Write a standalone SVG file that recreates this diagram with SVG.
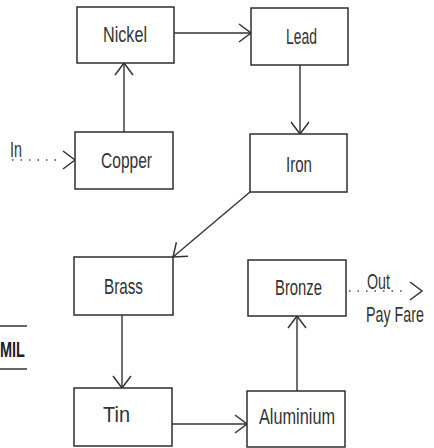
<svg xmlns="http://www.w3.org/2000/svg" width="434" height="448" viewBox="0 0 434 448">
<style>
.box{fill:#fff;stroke:#2e2e2e;stroke-width:1.5}
.lbl{font-family:"Liberation Sans",Arial,sans-serif;font-size:22px;fill:#333}
.ln{fill:none;stroke:#333;stroke-width:1.4;marker-end:url(#chev)}
.dot{fill:none;stroke:#444;stroke-width:1.5;stroke-dasharray:1.5 7}
.tip{fill:none;stroke:none;marker-end:url(#chev)}
</style>
<defs>
<marker id="chev" markerUnits="userSpaceOnUse" viewBox="-15 -11 17 22" markerWidth="17" markerHeight="22" refX="0" refY="0" orient="auto" overflow="visible">
<path d="M-12,-9 L0,0 L-12,9" fill="none" stroke="#333" stroke-width="1.5"/>
</marker>
</defs>
<rect width="434" height="448" fill="#fff"/>
<g id="connectors">
<path class="ln" d="M174,33 L251,33"/>
<path class="ln" d="M124,132 L124,63"/>
<path class="ln" d="M300,65 L300,134"/>
<path class="ln" d="M250,192 L173,257"/>
<path class="ln" d="M122,315 L122,388"/>
<path class="ln" d="M172,424 L247,424"/>
<path class="ln" d="M297,391 L297,316"/>
<path class="dot" d="M12,160 H60"/>
<path class="tip" d="M70,160 H75"/>
<path class="dot" d="M349,291 H407"/>
<path class="tip" d="M416,291 H422"/>
</g>
<g id="nickel"><rect class="box" x="77" y="7" width="97" height="56"/><text class="lbl" x="103" y="42" textLength="44" lengthAdjust="spacingAndGlyphs">Nickel</text></g>
<g id="lead"><rect class="box" x="251" y="8" width="97" height="57"/><text class="lbl" x="286" y="44" textLength="31" lengthAdjust="spacingAndGlyphs">Lead</text></g>
<g id="copper"><rect class="box" x="75" y="132" width="98" height="57"/><text class="lbl" x="101" y="168" textLength="51" lengthAdjust="spacingAndGlyphs">Copper</text></g>
<g id="iron"><rect class="box" x="250" y="134" width="97" height="58"/><text class="lbl" x="286" y="172" textLength="26" lengthAdjust="spacingAndGlyphs">Iron</text></g>
<g id="brass"><rect class="box" x="74" y="257" width="99" height="58"/><text class="lbl" x="104" y="294" textLength="39" lengthAdjust="spacingAndGlyphs">Brass</text></g>
<g id="bronze"><rect class="box" x="248" y="260" width="98" height="56"/><text class="lbl" x="275" y="295" textLength="47" lengthAdjust="spacingAndGlyphs">Bronze</text></g>
<g id="tin"><rect class="box" x="74" y="388" width="98" height="58"/><text class="lbl" x="103" y="422" textLength="27" lengthAdjust="spacingAndGlyphs">Tin</text></g>
<g id="aluminium"><rect class="box" x="247" y="391" width="98" height="56"/><text class="lbl" x="259" y="424" textLength="76" lengthAdjust="spacingAndGlyphs">Aluminium</text></g>
<g id="labels">
<text class="lbl" x="10" y="157" textLength="12" lengthAdjust="spacingAndGlyphs">In</text>
<text class="lbl" x="367" y="289" textLength="23" lengthAdjust="spacingAndGlyphs">Out</text>
<text class="lbl" transform="translate(366,322) scale(0.65,1)" x="0" y="0">Pay Fare</text>
</g>
<g id="mil">
<line x1="0" y1="326" x2="27" y2="326" stroke="#333" stroke-width="1.5"/>
<text x="0" y="357" font-family="Liberation Sans,Arial,sans-serif" font-weight="bold" font-size="22" fill="#222" textLength="25" lengthAdjust="spacingAndGlyphs">MIL</text>
<line x1="0" y1="369" x2="27" y2="369" stroke="#333" stroke-width="1.5"/>
</g>
</svg>
